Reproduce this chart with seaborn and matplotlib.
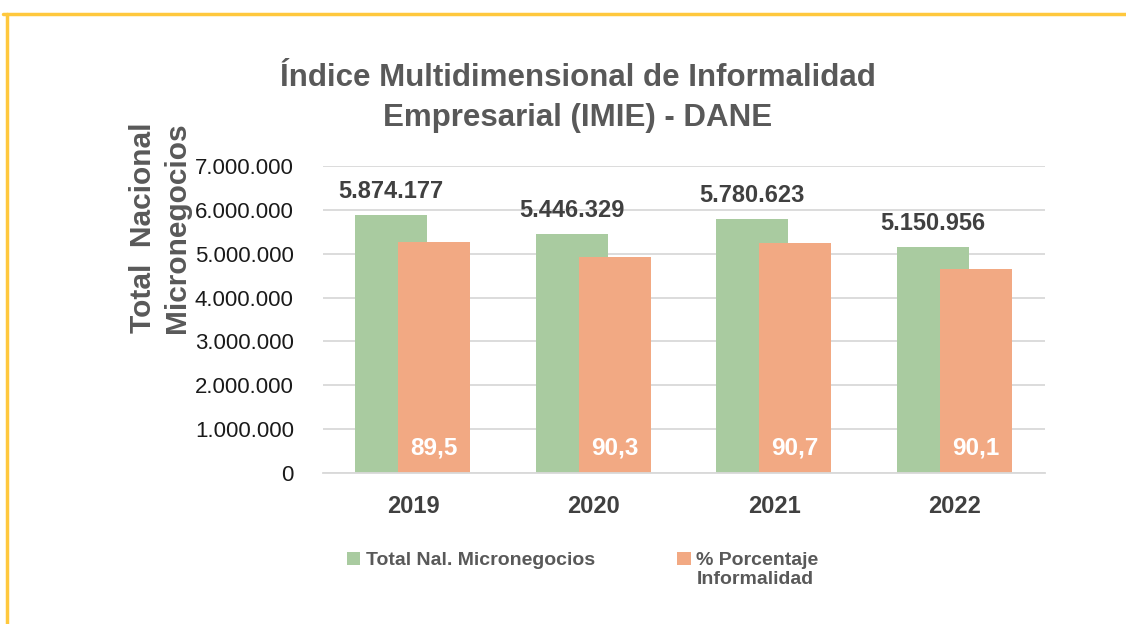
# Barras IMIE - DANE

import seaborn as sns
import matplotlib.pyplot as plt
import pandas as pd
from matplotlib.patches import Patch
from matplotlib.lines import Line2D

years = ["2019", "2020", "2021", "2022"]
total_micronegocios = [5874177, 5446329, 5780623, 5150956]
informales = [5257000, 4918000, 5243000, 4641000]
pct_informalidad = ["89,5", "90,3", "90,7", "90,1"]
series = ["Total Nal. Micronegocios", "% Porcentaje\nInformalidad"]
colors = ["#a9cba0", "#f2a983"]

df = pd.DataFrame({
    "year": years * 2,
    "value": total_micronegocios + informales,
    "serie": [series[0]] * 4 + [series[1]] * 4,
})

sns.set_style("white")
plt.rcParams["font.family"] = ["Liberation Sans", "DejaVu Sans"]

fig = plt.figure(figsize=(11.26, 6.24), dpi=100)
ax = fig.add_axes([323 / 1126, 1 - 473 / 624, 722 / 1126, 307 / 624])

sns.barplot(data=df, x="year", y="value", hue="serie", palette=colors,
            width=0.8, dodge=True, saturation=1, linewidth=0,
            ax=ax, legend=False, zorder=2)

# excel-like overlap of the two bars
n = len(years)
for i, p in enumerate(ax.patches[:2 * n]):
    p.set_x(p.get_x() + (0.078 if i < n else -0.084))

ax.set_ylim(0, 7000000)
ax.set_xlim(-0.5, 3.5)
ax.set_yticks(range(0, 7000001, 1000000))
ax.set_yticklabels(["0"] + [f"{v:,}".replace(",", ".") for v in range(1000000, 7000001, 1000000)])
ax.yaxis.grid(True, color="#d9d9d9", lw=1.3, zorder=0)
ax.set_axisbelow(True)
ax.tick_params(axis="y", length=0, labelsize=16, labelcolor="#1a1a1a", pad=21)
ax.tick_params(axis="x", which="major", length=0, labelsize=17, labelcolor="#404040", pad=16)
ax.set_xticks([-0.5, 0.5, 1.5, 2.5, 3.5], minor=True)
ax.tick_params(axis="x", which="minor", length=8, color="#d9d9d9", width=1.3)
for lab in ax.get_xticklabels():
    lab.set_fontweight("bold")
sns.despine(ax=ax, left=True)
ax.spines["bottom"].set_color("#d9d9d9")
ax.spines["bottom"].set_linewidth(1.3)
ax.set_xlabel("")
ax.set_ylabel("")

# labels
for i, p in enumerate(ax.patches[:n]):
    ax.annotate(f"{total_micronegocios[i]:,}".replace(",", "."),
                (p.get_x() + p.get_width() / 2, p.get_height()),
                xytext=(0, 9), textcoords="offset points", ha="center", va="bottom",
                fontsize=17, fontweight="bold", color="#404040")
for i, p in enumerate(ax.patches[n:2 * n]):
    ax.annotate(pct_informalidad[i], (p.get_x() + p.get_width() / 2, 0),
                xytext=(0, 10), textcoords="offset points", ha="center", va="bottom",
                fontsize=17.5, fontweight="bold", color="white")

fig.text(578 / 1126, 1 - 98 / 624,
         "Índice Multidimensional de Informalidad\nEmpresarial (IMIE) - DANE",
         ha="center", va="center", fontsize=22.5, fontweight="bold", color="#595959",
         linespacing=1.45)
fig.text(160 / 1126, 1 - 228 / 624, "Total  Nacional\nMicronegocios", rotation=90,
         ha="center", va="center", fontsize=21.5, fontweight="bold", color="#595959",
         linespacing=1.3)

handles = [Patch(facecolor=c, edgecolor="none") for c in colors]
leg = fig.legend(handles, series, loc="upper left", bbox_to_anchor=(337 / 1126, 1 - 542 / 624),
                 ncol=2, frameon=False, borderpad=0, handlelength=0.7, handleheight=0.7,
                 handletextpad=0.3, columnspacing=4.2, labelcolor="#595959",
                 prop={"size": 14, "weight": "bold"})
# square next to the first line of the two-line label, columns top-aligned
leg._legend_handle_box.align = "top"
for col in leg._legend_handle_box.get_children():
    for row in col.get_children():
        row.align = "top"

# yellow frame
fig.add_artist(Line2D([3 / 1126, 1], [1 - 14 / 624] * 2, transform=fig.transFigure,
                      color="#ffc83d", lw=2.5))
fig.add_artist(Line2D([7 / 1126] * 2, [0, 1 - 14 / 624], transform=fig.transFigure,
                      color="#ffc83d", lw=2.5))

fig.savefig("out.png", dpi=100)
